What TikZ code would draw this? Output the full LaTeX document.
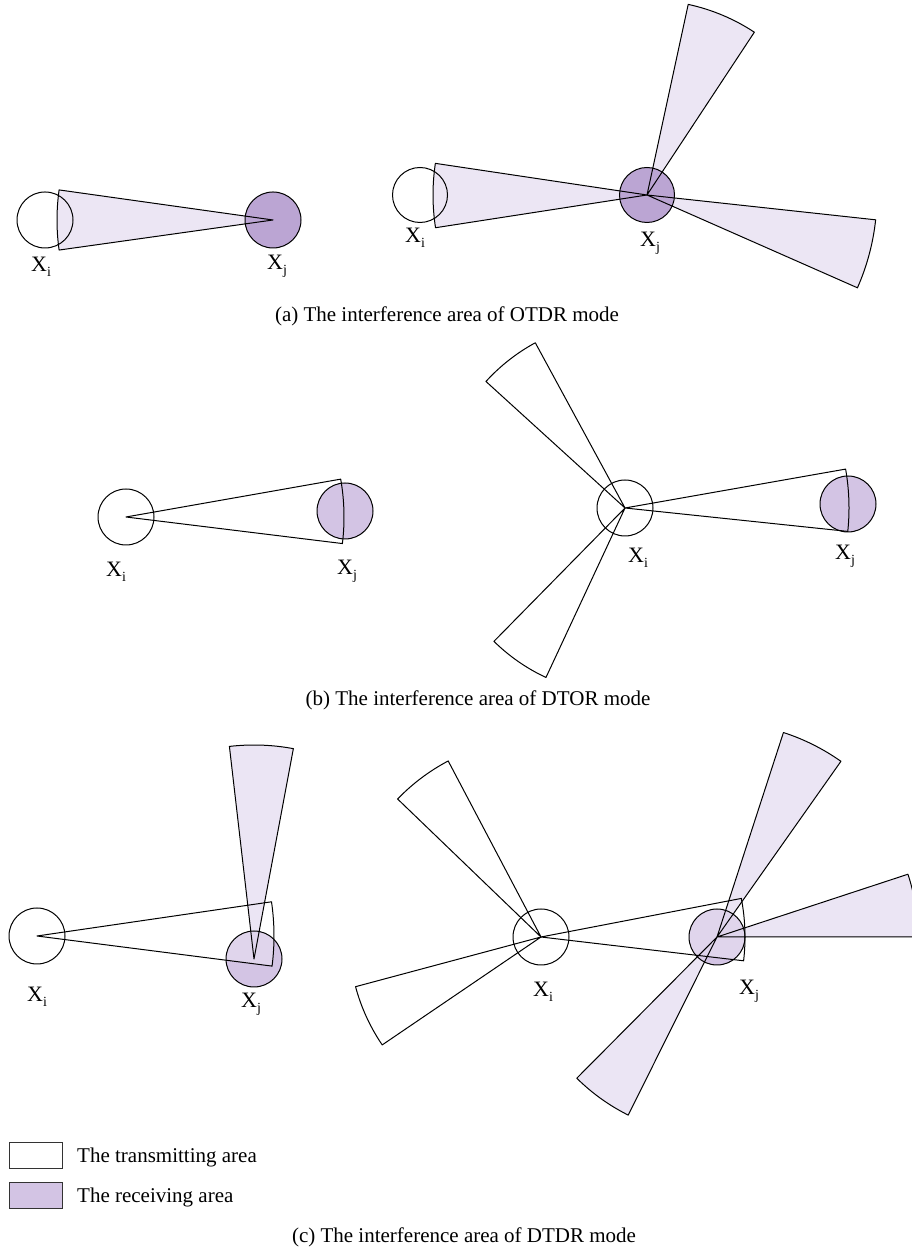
\documentclass[tikz,border=0pt]{standalone}
\usepackage{fontspec}
\setmainfont{Liberation Serif}
\definecolor{recv}{HTML}{D3C4E4}
\definecolor{recvdark}{HTML}{BBA5D3}
\definecolor{lobe}{HTML}{DFD5ED}
\definecolor{lobesolid}{HTML}{ECE6F4}
\tikzset{
  outl/.style={draw=black, line width=1pt, line join=round},
  lobefill/.style={fill=lobe, fill opacity=0.6},
  lobesolidfill/.style={fill=lobesolid},
  txfill/.style={fill=white, fill opacity=0.3},
  lbl/.style={anchor=base west, inner sep=0pt, font=\fontsize{22}{26}\selectfont},
  captext/.style={anchor=base, inner sep=0pt, font=\fontsize{21}{25}\selectfont},
  legtext/.style={anchor=base west, inner sep=0pt, font=\fontsize{21}{25}\selectfont},
  legbox/.style={draw=black!80, line width=1pt, minimum width=53pt, minimum height=26pt, anchor=south west, inner sep=0pt},
}
\newcommand\sect[5]{\path[#1] (#2) -- ++(#3:#5pt) arc[start angle=#3,end angle=#4,radius=#5pt] -- cycle;}
\newcommand\xl[1]{X\raisebox{-4.5pt}{\fontsize{14}{14}\selectfont #1}}
\begin{document}
\begin{tikzpicture}[x=1pt,y=1pt]
\useasboundingbox (0,0) rectangle (912,1250);
\clip (0,0) rectangle (912,1250);
\fill[white] (0,0) rectangle (912,1250);

% ---------- (a) left ----------
\coordinate (Ai) at (45,1030);
\coordinate (Aj) at (273,1030);
\sect{lobesolidfill}{Aj}{172}{188}{216}
\fill[recvdark] (Aj) circle[radius=28pt];
\sect{outl}{Aj}{172}{188}{216}
\draw[outl] (Ai) circle[radius=28pt];
\draw[outl] (Aj) circle[radius=28pt];
\node[lbl] (lAi) at (31,978) {\xl{i}};
\node[lbl] (lAj) at (267,980) {\xl{j}};

% ---------- (a) right ----------
\coordinate (Bi) at (420,1055);
\coordinate (Bj) at (647,1055);
\sect{lobesolidfill}{Bj}{171.5}{188.8}{214}
\sect{lobesolidfill}{Bj}{56.6}{77.8}{195}
\sect{lobesolidfill}{Bj}{-23.8}{-6.2}{230}
\fill[recvdark] (Bj) circle[radius=27.5pt];
\sect{outl}{Bj}{171.5}{188.8}{214}
\sect{outl}{Bj}{56.6}{77.8}{195}
\sect{outl}{Bj}{-23.8}{-6.2}{230}
\draw[outl] (Bi) circle[radius=27.5pt];
\draw[outl] (Bj) circle[radius=27.5pt];
\node[lbl] (lBi) at (405,1007) {\xl{i}};
\node[lbl] (lBj) at (640,1003) {\xl{j}};

\node[captext] (capa) at (447,928) {(a) The interference area of OTDR mode};

% ---------- (b) left ----------
\coordinate (Ci) at (126,733);
\coordinate (Cj) at (345,739);
\fill[recv] (Cj) circle[radius=28pt];
\sect{outl}{Ci}{-7}{10}{218}
\draw[outl] (Ci) circle[radius=28pt];
\draw[outl] (Cj) circle[radius=28pt];
\node[lbl] (lCi) at (106,673) {\xl{i}};
\node[lbl] (lCj) at (337,675) {\xl{j}};

% ---------- (b) right ----------
\coordinate (Di) at (625,742);
\coordinate (Dj) at (848,746);
\fill[recv] (Dj) circle[radius=28pt];
\sect{outl}{Di}{-6}{10}{224}
\sect{outl}{Di}{118.5}{137.7}{188}
\sect{outl}{Di}{225.5}{245}{187}
\draw[outl] (Di) circle[radius=28pt];
\draw[outl] (Dj) circle[radius=28pt];
\node[lbl] (lDi) at (628,687) {\xl{i}};
\node[lbl] (lDj) at (835,690) {\xl{j}};

\node[captext] (capb) at (478,544) {(b) The interference area of DTOR mode};

% ---------- (c) left ----------
\coordinate (Ei) at (37,314);
\coordinate (Ej) at (254,291);
\fill[recv] (Ej) circle[radius=28pt];
\sect{txfill}{Ei}{-7.3}{8.3}{237}
\sect{lobefill}{Ej}{79.4}{96.6}{214}
\sect{outl}{Ei}{-7.3}{8.3}{237}
\sect{outl}{Ej}{79.4}{96.6}{214}
\draw[outl] (Ei) circle[radius=28pt];
\draw[outl] (Ej) circle[radius=28pt];
\node[lbl] (lEi) at (27,248) {\xl{i}};
\node[lbl] (lEj) at (241,242) {\xl{j}};

% ---------- (c) right ----------
\coordinate (Fi) at (541,313);
\coordinate (Fj) at (717,313);
\fill[recv] (Fj) circle[radius=28pt];
\sect{txfill}{Fi}{-6.7}{10.9}{204}
\sect{lobefill}{Fj}{0}{18.2}{201}
\sect{lobefill}{Fj}{54.8}{72}{215}
\sect{lobefill}{Fj}{225.2}{243.5}{199}
\sect{outl}{Fi}{-6.7}{10.9}{204}
\sect{outl}{Fi}{117.8}{136.1}{199}
\sect{outl}{Fi}{195}{214.2}{192}
\sect{outl}{Fj}{0}{18.2}{201}
\sect{outl}{Fj}{54.8}{72}{215}
\sect{outl}{Fj}{225.2}{243.5}{199}
\draw[outl] (Fi) circle[radius=28pt];
\draw[outl] (Fj) circle[radius=28pt];
\node[lbl] (lFi) at (533,253) {\xl{i}};
\node[lbl] (lFj) at (739,255) {\xl{j}};

% ---------- legend ----------
\node[legbox, fill=white] (L1) at (9,81) {};
\node[legbox, fill=recv] (L2) at (9,41) {};
\node[legtext] (T1) at (77,87) {The transmitting area};
\node[legtext] (T2) at (77,47) {The receiving area};

\node[captext] (capc) at (464,8) {(c) The interference area of DTDR mode};
\end{tikzpicture}
\end{document}
